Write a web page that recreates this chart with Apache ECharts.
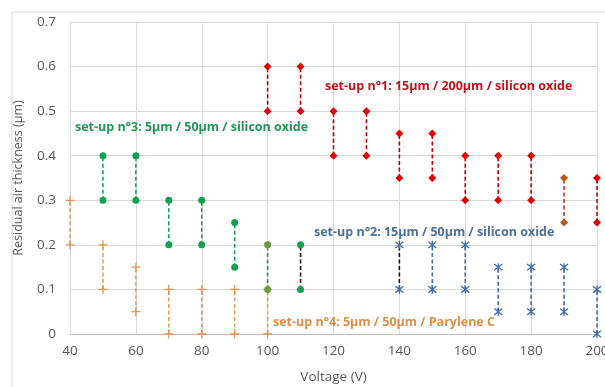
<!DOCTYPE html>
<html>
<head>
<meta charset="utf-8">
<script src="https://cdn.jsdelivr.net/npm/echarts@6/dist/echarts.min.js"></script>
<style>
  html, body { margin: 0; padding: 0; background: #fff; }
  #chart { width: 605px; height: 387px; }
</style>
</head>
<body>
<div id="chart"></div>
<script>
// set-up n°1: 15µm / 200µm / silicon oxide
var setup1Volts = [100, 110, 120, 130, 140, 150, 160, 170, 180, 190, 200];
var setup1Low   = [0.5, 0.5, 0.4, 0.4, 0.35, 0.35, 0.3, 0.3, 0.3, 0.25, 0.25];
var setup1High  = [0.6, 0.6, 0.5, 0.5, 0.45, 0.45, 0.4, 0.4, 0.4, 0.35, 0.35];

// set-up n°2: 15µm / 50µm / silicon oxide
var setup2Volts = [140, 150, 160, 170, 180, 190, 200];
var setup2Low   = [0.1, 0.1, 0.1, 0.05, 0.05, 0.05, 0];
var setup2High  = [0.2, 0.2, 0.2, 0.15, 0.15, 0.15, 0.1];

// set-up n°3: 5µm / 50µm / silicon oxide
var setup3Volts = [50, 60, 70, 80, 90, 100, 110];
var setup3Low   = [0.3, 0.3, 0.2, 0.2, 0.15, 0.1, 0.1];
var setup3High  = [0.4, 0.4, 0.3, 0.3, 0.25, 0.2, 0.2];

// set-up n°4: 5µm / 50µm / Parylene C
var setup4Volts = [40, 50, 60, 70, 80, 90, 100];
var setup4Low   = [0.2, 0.1, 0.05, 0, 0, 0, 0];
var setup4High  = [0.3, 0.2, 0.15, 0.1, 0.1, 0.1, 0.1];

var xTicks = [40, 60, 80, 100, 120, 140, 160, 180, 200];

var labels = [
  { text: 'set-up n°1: 15µm / 200µm / silicon oxide', color: '#C0141C', x: 325, y: 89 },
  { text: 'set-up n°3: 5µm / 50µm / silicon oxide', color: '#1C9A55', x: 75, y: 130 },
  { text: 'set-up n°2: 15µm / 50µm / silicon oxide', color: '#4A6FA5', x: 314, y: 235 },
  { text: 'set-up n°4: 5µm / 50µm / Parylene C', color: '#D98E4A', x: 273, y: 325 }
];

var plusPath = 'path://M0,5L10,5M5,0L5,10';
var starPath = 'path://M1,1L9,9M9,1L1,9M5,0L5,10';

function segments(volts, low, high, opt) {
  var out = [];
  volts.forEach(function (v, i) {
    var line = (opt.lineColors && opt.lineColors[v]) || opt.lineColor;
    var mark = (opt.markColors && opt.markColors[v]) || opt.markColor;
    out.push({
      type: 'line',
      data: [[v, low[i]], [v, high[i]]],
      symbol: opt.symbol,
      symbolSize: opt.size,
      showSymbol: true,
      animation: false,
      lineStyle: { color: line, width: 1.6, type: [4, 2.5] },
      itemStyle: opt.stroke
        ? { color: 'rgba(0,0,0,0)', borderColor: mark, borderWidth: 1.3 }
        : { color: mark, borderWidth: 0 },
      z: opt.z
    });
  });
  return out;
}

var series = [].concat(
  segments(setup4Volts, setup4Low, setup4High, {
    symbol: plusPath, size: 9, stroke: true, lineColor: '#E0A060', markColor: '#DD9550', z: 2
  }),
  segments(setup3Volts, setup3Low, setup3High, {
    symbol: 'circle', size: 7, lineColor: '#1E9E5A', markColor: '#12A150',
    lineColors: { 110: '#111111' }, markColors: { 100: '#6E9A3A' }, z: 3
  }),
  segments(setup2Volts, setup2Low, setup2High, {
    symbol: starPath, size: 8, stroke: true, lineColor: '#3F6CB0', markColor: '#3F6CB0',
    lineColors: { 140: '#111111' }, z: 4
  }),
  segments(setup1Volts, setup1Low, setup1High, {
    symbol: 'diamond', size: 8, lineColor: '#C00000', markColor: '#E00000',
    lineColors: { 190: '#C8341A' }, markColors: { 190: '#C0561A' }, z: 5
  })
);

var chart = echarts.init(document.getElementById('chart'));
chart.setOption({
  backgroundColor: '#fff',
  textStyle: { fontFamily: 'Open Sans' },
  grid: { left: 70, right: 8, top: 22, bottom: 53, outerBoundsMode: 'none' },
  xAxis: {
    type: 'value', min: 40, max: 200, interval: 20,
    name: 'Voltage (V)', nameLocation: 'middle', nameGap: 36,
    nameTextStyle: { color: '#595959', fontSize: 13.5 },
    axisLine: { show: true, lineStyle: { color: '#bfbfbf' } },
    axisTick: { show: false },
    axisLabel: { color: '#595959', fontSize: 13.5, margin: 10,
      formatter: function (v) { return xTicks.indexOf(v) >= 0 ? String(v) : ''; } },
    splitLine: { show: true, lineStyle: { color: '#d9d9d9' } }
  },
  yAxis: {
    type: 'value', min: 0, max: 0.7, interval: 0.1,
    name: 'Residual air thickness (µm)', nameLocation: 'middle', nameGap: 45,
    nameTextStyle: { color: '#595959', fontSize: 12.5 },
    axisLine: { show: false },
    axisTick: { show: false },
    axisLabel: { color: '#595959', fontSize: 13.5, margin: 14,
      formatter: function (v) { return v === 0 ? '0' : v.toFixed(1); } },
    splitLine: { show: true, lineStyle: { color: '#d9d9d9' } }
  },
  graphic: [
    { type: 'rect', shape: { x: 12, y: 12, width: 620, height: 400 },
      style: { fill: 'none', stroke: '#d9d9d9', lineWidth: 1 }, z: 0, silent: true }
  ].concat(labels.map(function (l) {
    return {
      type: 'text', left: l.x, top: l.y - 9, z: 10,
      style: { text: l.text, fill: l.color, fontSize: 12.5, fontWeight: 'bold', fontFamily: 'Open Sans' }
    };
  })),
  series: series
});
</script>
</body>
</html>
